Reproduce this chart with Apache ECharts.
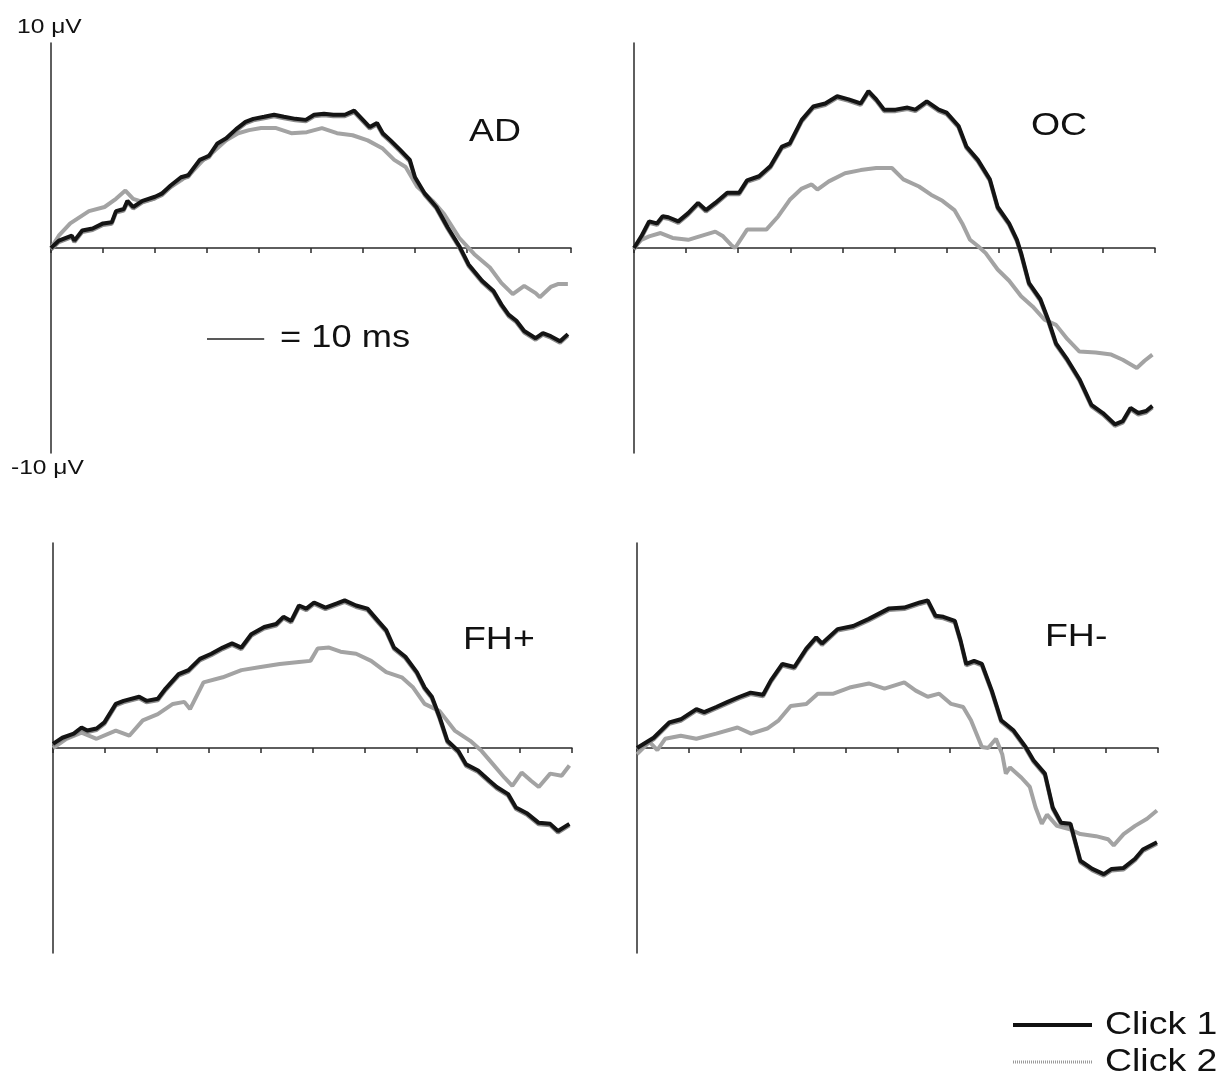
<!DOCTYPE html>
<html>
<head>
<meta charset="utf-8">
<script src="https://cdn.jsdelivr.net/npm/echarts@6/dist/echarts.min.js"></script>
<style>
  html, body { margin: 0; padding: 0; background: #fff; }
  #chart { width: 1224px; height: 1082px; }
</style>
</head>
<body>
<div id="chart"></div>
<script>
// panel names and x ticks (ms)
const panels = ['AD', 'OC', 'FH+', 'FH-']
const legendNames = ['Click 1', 'Click 2']
const tickStep = 10

// [time ms, amplitude µV]
const adClick1 = [[0,0],[1.5,0.36],[4,0.6],[4.5,0.36],[6,0.85],[8,0.95],[10,1.2],[11.7,1.26],[12.5,1.8],[14,1.9],[14.7,2.3],[15.8,2.0],[17.6,2.3],[20,2.5],[21.3,2.65],[23,3.05],[25,3.45],[26.4,3.55],[28.6,4.3],[30.4,4.5],[32,5.1],[33.7,5.35],[35.6,5.8],[37.4,6.15],[38.9,6.3],[41,6.4],[42.9,6.5],[44.8,6.4],[47,6.3],[49,6.25],[50.6,6.5],[52.5,6.55],[54.3,6.5],[56.5,6.5],[58.3,6.7],[59.8,6.3],[61.3,5.9],[62.7,6.1],[63.8,5.6],[65.3,5.25],[67.1,4.8],[69,4.3],[70,3.45],[71.9,2.65],[74.1,2.0],[76.3,1.0],[78.5,0.1],[80.3,-0.8],[82.9,-1.6],[85.1,-2.1],[86.6,-2.75],[88,-3.25],[89.5,-3.55],[91,-4.05],[93.2,-4.4],[94.6,-4.15],[96.1,-4.3],[97.9,-4.55],[99.4,-4.2]]
const adClick2 = [[0,0],[1.5,0.6],[3.7,1.2],[7.3,1.8],[10.3,2.0],[12.5,2.4],[14.3,2.8],[15.8,2.4],[17.6,2.25],[19.8,2.4],[22,2.8],[25,3.3],[27.1,3.7],[29.3,4.3],[31.5,4.75],[33.7,5.25],[36,5.6],[38.1,5.75],[40.4,5.85],[43.3,5.85],[46.2,5.6],[49.2,5.65],[52.1,5.85],[55,5.6],[58,5.5],[60.9,5.25],[63.8,4.85],[66,4.3],[68.2,3.95],[70.4,3.0],[73.4,2.3],[75.6,1.65],[78.5,0.5],[81.4,-0.3],[84.4,-0.95],[86.6,-1.7],[88.8,-2.25],[91,-1.85],[93.2,-2.2],[94,-2.4],[96.1,-1.9],[97.6,-1.75],[99.4,-1.75]]

const ocClick1 = [[0,0],[1.4,0.57],[2.9,1.3],[4.4,1.2],[5.5,1.55],[6.6,1.5],[8.5,1.3],[10.4,1.7],[12.3,2.2],[13.8,1.85],[15.6,2.2],[17.9,2.7],[20.2,2.7],[21.7,3.3],[24,3.5],[26.2,4.0],[28.4,4.95],[29.9,5.1],[32.2,6.25],[34.4,6.9],[36.7,7.05],[39,7.4],[41.2,7.25],[43.5,7.05],[45,7.65],[46.5,7.25],[48,6.75],[50.2,6.75],[52.5,6.85],[54,6.75],[56.2,7.15],[58.5,6.75],[60,6.6],[62.3,5.95],[63.8,4.95],[66,4.3],[68.3,3.35],[69.8,2.0],[72,1.2],[73.5,0.4],[74.3,-0.25],[75.8,-1.7],[78,-2.5],[79.5,-3.5],[81,-4.65],[83.2,-5.45],[85.5,-6.4],[87.8,-7.65],[90,-8.05],[92.3,-8.6],[93.8,-8.45],[95.3,-7.8],[96.8,-8.05],[98.3,-7.95],[99.5,-7.7]]
const ocClick2 = [[0,0],[1.4,0.4],[2.9,0.57],[5.1,0.73],[7.4,0.49],[10.4,0.4],[12.6,0.57],[15.6,0.8],[17.1,0.57],[18.6,0.16],[19.4,0],[21.7,0.9],[25.4,0.9],[27.7,1.55],[29.9,2.35],[32.2,2.9],[34.1,3.1],[35.2,2.85],[37.4,3.25],[40.5,3.65],[43.5,3.8],[46.5,3.9],[49.5,3.9],[51.7,3.35],[54.7,3.0],[57,2.6],[59.2,2.3],[61.5,1.85],[63,1.2],[64.5,0.4],[66,0.1],[67.5,-0.25],[69.8,-1.05],[72,-1.6],[74.3,-2.35],[76.5,-2.85],[78.8,-3.5],[81,-3.75],[83.2,-4.45],[85.5,-5.05],[88.6,-5.1],[91.6,-5.2],[93.8,-5.45],[96.5,-5.85],[98,-5.5],[99.5,-5.2]]

const fhpClick1 = [[0,0.2],[1.8,0.5],[4,0.7],[5.5,1.0],[6.6,0.85],[8.4,0.95],[9.9,1.25],[12.1,2.15],[13.6,2.3],[16.6,2.5],[18,2.3],[20.2,2.4],[21.7,2.9],[24.2,3.6],[26.1,3.8],[28.3,4.35],[30.5,4.6],[32.7,4.9],[34.5,5.1],[36.3,4.9],[38.2,5.55],[40.7,5.9],[43,6.05],[44.4,6.4],[45.9,6.2],[47.4,6.95],[48.8,6.8],[50.3,7.1],[52.5,6.85],[54.7,7.05],[56.2,7.2],[58.4,6.95],[60.6,6.8],[62.8,6.15],[64.2,5.75],[65.7,4.9],[67.9,4.45],[70.1,3.7],[71.6,2.95],[73,2.5],[74.5,1.5],[76,0.35],[78.1,-0.15],[79.6,-0.8],[81.9,-1.1],[84.1,-1.6],[85.5,-1.9],[87.7,-2.25],[89.2,-2.9],[91.4,-3.2],[93.6,-3.65],[95.8,-3.7],[97.3,-4.05],[99.5,-3.7]]
const fhpClick2 = [[0,0],[2.6,0.45],[5.5,0.75],[8.4,0.45],[12.1,0.85],[14.7,0.6],[17.3,1.35],[20.2,1.65],[23.1,2.15],[25.3,2.25],[26.4,1.9],[29,3.2],[32.7,3.45],[36.3,3.8],[40,3.95],[43.7,4.1],[47.4,4.2],[49.6,4.25],[51,4.85],[53.2,4.9],[55.4,4.7],[58.4,4.6],[61.3,4.25],[64.2,3.7],[67.2,3.45],[69.4,2.95],[71.6,2.15],[74.5,1.8],[77.4,0.85],[80.4,0.35],[82.6,-0.15],[84.8,-0.8],[87,-1.45],[88.5,-1.85],[90.3,-1.2],[92.1,-1.6],[93.6,-1.9],[95.8,-1.25],[98,-1.35],[99.5,-0.85]]

const fhmClick1 = [[0,0],[3.2,0.5],[6.2,1.25],[8.4,1.4],[11.4,1.9],[12.9,1.75],[15.2,2.0],[17.4,2.25],[19.7,2.5],[21.8,2.7],[24.2,2.6],[25.7,3.3],[27.9,4.1],[30.2,3.95],[32.5,4.85],[34.4,5.4],[35.5,5.1],[38.5,5.8],[41.5,5.95],[44.5,6.3],[48.3,6.8],[51.3,6.85],[54.3,7.1],[55.8,7.2],[57.3,6.45],[58.8,6.4],[61,6.2],[62.1,5.25],[63.2,4.1],[64.7,4.25],[66.2,4.1],[68.1,2.8],[69.9,1.35],[72.3,0.85],[74.6,0.05],[76.1,-0.6],[78.3,-1.25],[79.8,-2.9],[81.4,-3.65],[83.2,-3.7],[85.1,-5.5],[87.4,-5.9],[89.6,-6.15],[91.1,-5.9],[93.4,-5.85],[95.6,-5.4],[97.1,-4.95],[99.8,-4.6]]
const fhmClick2 = [[0,-0.3],[2.4,0.3],[3.9,-0.1],[5.4,0.45],[8.4,0.6],[11.4,0.45],[15.2,0.7],[19.3,1.0],[21.9,0.7],[25,0.95],[27.2,1.35],[29.5,2.05],[32.5,2.15],[34.7,2.65],[37.7,2.65],[40.8,2.95],[44.5,3.15],[47.5,2.9],[51.3,3.2],[53.5,2.8],[55.8,2.5],[58,2.65],[60.3,2.15],[62.6,2.0],[64.1,1.35],[66.2,0.05],[67.4,0],[68.9,0.45],[70.1,-0.3],[70.8,-1.25],[71.6,-0.95],[73.8,-1.45],[75.4,-1.9],[76.5,-2.9],[77.7,-3.7],[78.7,-3.25],[80.6,-3.8],[82.9,-3.95],[85.1,-4.2],[88.1,-4.3],[90.4,-4.45],[91.5,-4.75],[93.4,-4.2],[95.6,-3.8],[97.9,-3.45],[99.8,-3.05]]

const click1 = [adClick1, ocClick1, fhpClick1, fhmClick1]
const click2 = [adClick2, ocClick2, fhpClick2, fhmClick2]
// 10 ms scale bar drawn inside the AD panel
const scaleBar = [[30, -4.45], [41, -4.45]]

const font = '"Liberation Sans", Arial, sans-serif'
const grids = [
  { left: 51, top: 43, width: 520, height: 410 },
  { left: 634, top: 43, width: 521, height: 410 },
  { left: 53, top: 543, width: 519, height: 410 },
  { left: 637, top: 543, width: 521, height: 410 }
]
const axisColor = '#2a2a2a'
const c1Style = { color: '#141414', width: 4, shadowColor: '#8c8c8c', shadowOffsetY: 1.5, shadowBlur: 0 }
const c2Style = { color: '#a3a3a3', width: 4 }

const chart = echarts.init(document.getElementById('chart'))

const xAxis = grids.map((g, i) => ({
  type: 'value', gridIndex: i, min: 0, max: 100, interval: tickStep,
  axisLine: { onZero: true, lineStyle: { color: axisColor, width: 1.5 } },
  axisTick: { show: true, length: 5, lineStyle: { color: axisColor, width: 1.5 } },
  axisLabel: { show: false }, splitLine: { show: false }
}))
const yAxis = grids.map((g, i) => ({
  type: 'value', gridIndex: i, min: -10, max: 10,
  axisLine: { show: true, onZero: false, lineStyle: { color: axisColor, width: 1.5 } },
  axisTick: { show: false }, axisLabel: { show: false }, splitLine: { show: false }
}))

const series = []
panels.forEach((p, i) => {
  series.push({
    name: legendNames[1], type: 'line', xAxisIndex: i, yAxisIndex: i, data: click2[i],
    symbol: 'none', silent: true, lineStyle: c2Style, itemStyle: { color: c2Style.color }
  })
  series.push({
    name: legendNames[0], type: 'line', xAxisIndex: i, yAxisIndex: i, data: click1[i],
    symbol: 'none', silent: true, lineStyle: c1Style, itemStyle: { color: c1Style.color },
    markLine: i === 0 ? {
      silent: true, symbol: 'none', label: { show: false },
      lineStyle: { color: '#222', width: 1.5, type: 'solid' },
      data: [[{ coord: scaleBar[0] }, { coord: scaleBar[1] }]]
    } : undefined
  })
})

function txt(str, x, y, size) {
  return {
    type: 'text', x: x, y: y, scaleX: 1.17,
    style: { text: str, font: size + 'px ' + font, fill: '#111', textAlign: 'left', textVerticalAlign: 'middle' }
  }
}

// legend drawn by hand: two rows at the bottom right
const legendItems = [
  { type: 'line', shape: { x1: 1013, y1: 1025, x2: 1092, y2: 1025 }, style: { stroke: '#111', lineWidth: 4 } },
  txt(legendNames[0], 1105, 1025, 32),
  { type: 'line', shape: { x1: 1013, y1: 1062, x2: 1092, y2: 1062 }, style: { stroke: '#9a9a9a', lineWidth: 3, lineDash: [1, 1] } },
  txt(legendNames[1], 1105, 1062, 32)
]

chart.setOption({
  backgroundColor: '#fff',
  animation: false,
  grid: grids,
  xAxis: xAxis,
  yAxis: yAxis,
  graphic: [
    txt('10 μV', 17, 27, 21),
    txt('-10 μV', 11, 468, 21),
    txt('= 10 ms', 280, 338, 31),
    txt(panels[0], 469, 132, 32),
    txt(panels[1], 1031, 126, 32),
    txt(panels[2], 463, 640, 32),
    txt(panels[3], 1045, 637, 32)
  ].concat(legendItems),
  series: series
})
</script>
</body>
</html>
